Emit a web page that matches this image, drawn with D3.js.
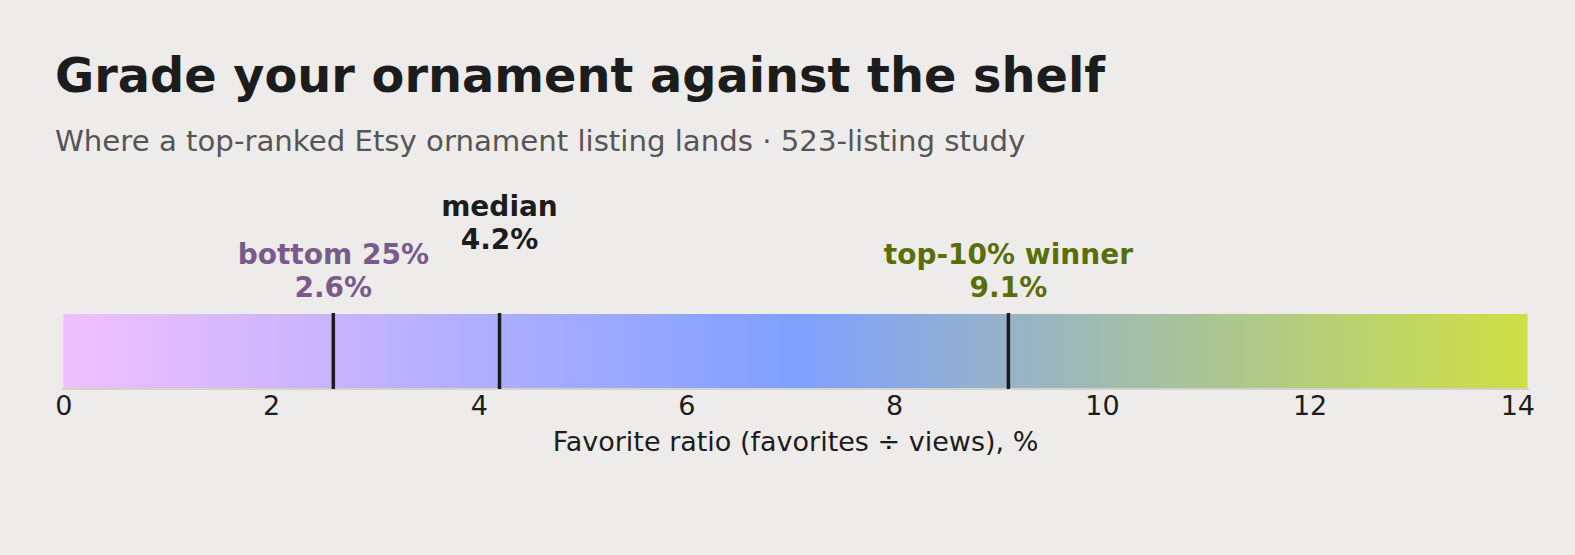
<!DOCTYPE html>
<html>
<head>
<meta charset="utf-8">
<script src="https://cdn.jsdelivr.net/npm/d3@7"></script>
<style>
  html, body { margin: 0; padding: 0; background: #edecea; }
  svg { display: block; font-family: "DejaVu Sans", sans-serif; }
</style>
</head>
<body>
<svg id="chart" width="1575" height="555"></svg>
<script>
// ---- data ----
const domainMin = 0;
const domainMax = 14;
const barMax = 14.1;
const tickValues = [0, 2, 4, 6, 8, 10, 12, 14];
const gradientStops = [0, 7.05, 14.1];
const gradientColors = ["#f0c0fe", "#80a0fe", "#cde044"];
const markerNames = ["bottom 25%", "median", "top-10% winner"];
const markerValues = [2.6, 4.2, 9.1];
const markerLabels = ["2.6%", "4.2%", "9.1%"];
const markerColors = ["#7a5a8a", "#1c1c1c", "#5a6e08"];
const markerRaised = [false, true, false];
const titleText = "Grade your ornament against the shelf";
const subtitleText = "Where a top-ranked Etsy ornament listing lands · 523-listing study";
const axisTitle = "Favorite ratio (favorites ÷ views), %";

// ---- layout ----
const svg = d3.select("#chart");
const W = 1575, H = 555;
const barTop = 314, barBottom = 388;
const x = d3.scaleLinear().domain([domainMin, domainMax]).range([63.3, 1517.3]);

svg.append("rect").attr("width", W).attr("height", H).attr("fill", "#edecea");

// title & subtitle
svg.append("text").attr("x", 55).attr("y", 92)
  .attr("font-size", 47.8).attr("font-weight", "bold").attr("fill", "#1c1c1c")
  .text(titleText);
svg.append("text").attr("x", 55).attr("y", 151)
  .attr("font-size", 29.2).attr("fill", "#555555")
  .text(subtitleText);

// gradient
const defs = svg.append("defs");
const grad = defs.append("linearGradient").attr("id", "barGrad")
  .attr("gradientUnits", "userSpaceOnUse")
  .attr("x1", x(domainMin)).attr("x2", x(barMax)).attr("y1", 0).attr("y2", 0);
grad.selectAll("stop").data(gradientStops).join("stop")
  .attr("offset", d => (d - domainMin) / (barMax - domainMin))
  .attr("stop-color", (d, i) => gradientColors[i]);

svg.append("rect")
  .attr("x", x(domainMin)).attr("y", barTop)
  .attr("width", x(barMax) - x(domainMin)).attr("height", barBottom - barTop)
  .attr("fill", "url(#barGrad)");

// baseline
svg.append("line")
  .attr("x1", x(domainMin) - 1).attr("x2", x(barMax) + 1)
  .attr("y1", barBottom + 1).attr("y2", barBottom + 1)
  .attr("stroke", "#d3d2cf").attr("stroke-width", 2);

// axis
const axis = d3.axisBottom(x).tickValues(tickValues).tickSize(0).tickPadding(8)
  .tickFormat(d3.format("d"));
const gAxis = svg.append("g").attr("transform", `translate(0,${barBottom + 1})`).call(axis);
gAxis.select(".domain").remove();
gAxis.selectAll("text").attr("font-size", 27).attr("fill", "#1c1c1c")
  .attr("font-family", "DejaVu Sans, sans-serif").attr("dy", "0.66em");

svg.append("text").attr("x", (x(domainMin) + x(barMax)) / 2).attr("y", 451)
  .attr("text-anchor", "middle").attr("font-size", 27).attr("fill", "#1c1c1c")
  .text(axisTitle);

// markers
const markers = markerValues.map((v, i) => ({
  v, name: markerNames[i], label: markerLabels[i], color: markerColors[i], raised: markerRaised[i]
}));

svg.selectAll("line.marker").data(markers).join("line")
  .attr("class", "marker")
  .attr("x1", d => x(d.v)).attr("x2", d => x(d.v))
  .attr("y1", barTop - 1).attr("y2", barBottom + 1)
  .attr("stroke", "#1c1c1c").attr("stroke-width", 3.5);

const lab = svg.selectAll("text.mlabel").data(markers).join("text")
  .attr("class", "mlabel")
  .attr("text-anchor", "middle")
  .attr("font-size", 28).attr("font-weight", "bold")
  .attr("fill", d => d.color);
lab.append("tspan").attr("x", d => x(d.v)).attr("y", d => d.raised ? 216 : 264).text(d => d.name);
lab.append("tspan").attr("x", d => x(d.v)).attr("y", d => d.raised ? 249 : 297).text(d => d.label);
</script>
</body>
</html>
